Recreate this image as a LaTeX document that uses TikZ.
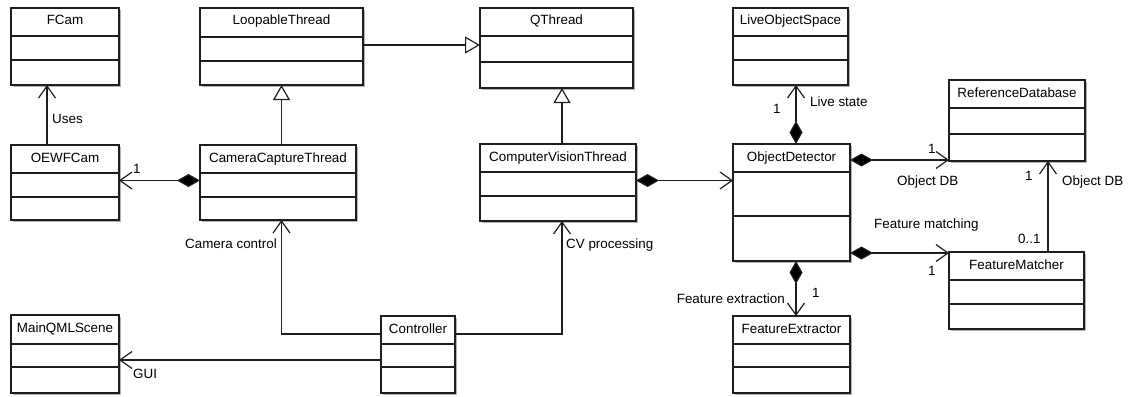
\documentclass[tikz,border=0pt]{standalone}
\usepackage{fontspec}
\setmainfont{Liberation Sans}
\usetikzlibrary{arrows.meta,calc}

\definecolor{linecol}{HTML}{1E1E1E}
\definecolor{shadowcol}{HTML}{B4B4B4}

\tikzset{
  classframe/.style={draw=linecol, line width=1.3pt, fill=white, rectangle,
    inner sep=0pt, outer sep=0pt},
  boxshadow/.style={fill=shadowcol},
  divider/.style={draw=linecol, line width=1.2pt},
  classtitle/.style={inner sep=0pt, text=black, font=\fontsize{13.4}{16}\selectfont},
  lbl/.style={inner sep=0pt, text=black, font=\fontsize{13.4}{16}\selectfont},
  conn/.style={draw=linecol, line width=1.2pt},
  usearrow/.style={conn, -{Straight Barb[length=12pt,width=17pt,line width=1.2pt]}},
  genarrow/.style={conn, -{Triangle[open,length=15pt,width=17pt,line width=1.2pt,fill=white]}},
  comparrow/.style={conn, {Diamond[length=23pt,width=13pt,fill=black]}-{Straight Barb[length=12pt,width=17pt,line width=1.2pt]}},
}

% UML class box: name, x1, y1, x2, y2, first divider y, second divider y, title
\newcommand\umlbox[8]{%
  \fill[boxshadow] ({#2+1.6},{#3+1.6}) rectangle ({#4+1.6},{#5+1.6});
  \node[classframe, anchor=north west, minimum width={#4-#2}, minimum height={#5-#3}] (#1) at (#2,#3) {};
  \draw[divider] (#2,#6) -- (#4,#6);
  \draw[divider] (#2,#7) -- (#4,#7);
  \node[classtitle, anchor=base] (#1-title) at ({(#2+#4)/2},{#3+17}) {#8};
}

\begin{document}
\begin{tikzpicture}[x=1pt, y=-1pt]
\useasboundingbox (0,0) rectangle (1131,396);

% classes
\umlbox{fcam}{11}{8}{119}{85}{36}{60}{FCam}
\umlbox{loop}{200}{8}{363}{85}{37}{61}{LoopableThread}
\umlbox{qthread}{480}{8}{633}{88}{36}{62}{QThread}
\umlbox{live}{733}{8}{848}{85}{36}{60}{LiveObjectSpace}
\umlbox{refdb}{949}{80}{1085}{161}{108}{134}{ReferenceDatabase}
\umlbox{oewf}{11}{145}{119}{220}{173}{197}{OEWFCam}
\umlbox{cct}{200}{145}{356}{220}{173}{197}{CameraCaptureThread}
\umlbox{cvt}{480}{144}{636}{221}{172}{196}{ComputerVisionThread}
\umlbox{od}{733}{144}{850}{261}{172}{216}{ObjectDetector}
\umlbox{fext}{733}{316}{850}{393}{344}{367}{FeatureExtractor}
\umlbox{fmatch}{949}{252}{1084}{329}{280}{304}{FeatureMatcher}
\umlbox{mqml}{11}{315}{119}{393}{344}{367}{MainQMLScene}
\umlbox{ctrl}{381}{316}{455}{393}{344}{367}{Controller}

% generalisations
\draw[genarrow] ([yshift=1.5pt]loop.east) -- ([yshift=1.5pt]loop.east -| qthread.west);
\draw[genarrow] (loop.south |- cct.north) -- (loop.south);
\draw[genarrow] ([xshift=4pt]cvt.north) -- ([xshift=4pt]cvt.north |- qthread.south);

% plain associations
\draw[usearrow] ([xshift=-18pt]oewf.north) -- ([xshift=-18pt]fcam.south);
\draw[usearrow] ([xshift=31.5pt]fmatch.north) -- ([xshift=31.5pt]fmatch.north |- refdb.south);

% compositions
\draw[comparrow] ([yshift=2pt]cct.west) -- ([yshift=2pt]cct.west -| oewf.east);
\draw[comparrow] ([yshift=2pt]cvt.east) -- ([yshift=2pt]cvt.east -| od.west);
\draw[comparrow] ([xshift=4.5pt]od.north) -- ([xshift=4.5pt]od.north |- live.south);
\draw[comparrow] ([yshift=-16pt]od.north east) -- ([yshift=-16pt]od.north east -| refdb.west);
\draw[comparrow] ([yshift=-109pt]od.north east) -- ([yshift=-109pt]od.north east -| fmatch.west);
\draw[comparrow] ([xshift=4.5pt]od.south) -- ([xshift=4.5pt]od.south |- fext.north);

% controller links
\draw[usearrow] ([yshift=20.5pt]ctrl.west) -| ([xshift=3.5pt]cct.south);
\draw[usearrow] ([yshift=20.5pt]ctrl.east) -| ([xshift=4pt]cvt.south);
\draw[usearrow] ([yshift=-5.5pt]ctrl.west) -- ([yshift=-5.5pt]ctrl.west -| mqml.east);

% connector labels
\node[lbl, anchor=base west] (l-uses) at (52,123) {Uses};
\node[lbl, anchor=base west] (l-oewf1) at (133,173) {1};
\node[lbl, anchor=base west] (l-live) at (810,106) {Live state};
\node[lbl, anchor=base west] (l-live1) at (773,113) {1};
\node[lbl, anchor=base west] (l-ref1) at (928,153) {1};
\node[lbl, anchor=base west] (l-objdb) at (897,185) {Object DB};
\node[lbl, anchor=base west] (l-ref2) at (1025,180) {1};
\node[lbl, anchor=base west] (l-objdb2) at (1062,185) {Object DB};
\node[lbl, anchor=base west] (l-fmatch) at (874,228) {Feature matching};
\node[lbl, anchor=base west] (l-zeroone) at (1018,243) {0..1};
\node[lbl, anchor=base west] (l-fm1) at (928,275) {1};
\node[lbl, anchor=base west] (l-fe1) at (812,297) {1};
\node[lbl, anchor=base east] (l-fext) at (785,303) {Feature extraction};
\node[lbl, anchor=base east] (l-cam) at (277,248) {Camera control};
\node[lbl, anchor=base west] (l-cv) at (566,248) {CV processing};
\node[lbl, anchor=base west] (l-gui) at (133,378) {GUI};
\end{tikzpicture}
\end{document}
